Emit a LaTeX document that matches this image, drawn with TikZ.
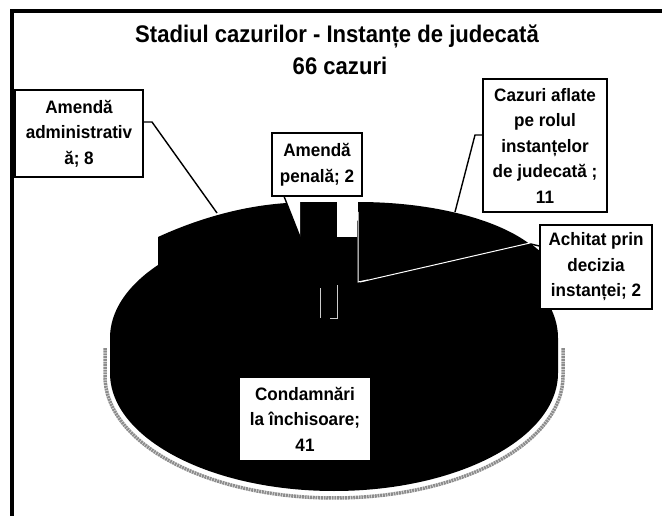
\documentclass[tikz,border=0pt]{standalone}
\usepackage{fontspec}
\setmainfont{Liberation Sans}
\newfontfamily\narrowfont{Liberation Sans}[FakeStretch=0.92]
\newfontfamily\labelfont{Liberation Sans}[FakeStretch=0.95]
\tikzset{
  lbl/.style={draw=black, line width=1.6pt, fill=white, align=center, inner sep=0pt,
    font=\labelfont\fontsize{18}{25.5}\selectfont\bfseries},
  ttl/.style={anchor=base, inner sep=0pt, font=\narrowfont\fontsize{24}{30}\selectfont\bfseries},
  slice/.style={fill=black},
  lead/.style={draw=black, line width=1.4pt},
  edgew/.style={draw=white, line width=1pt},
  faint/.style={draw=white!80!black, line width=0.6pt},
  halo/.style={draw=black!45, line width=3.5pt, dash pattern=on 2pt off 0.7pt},
  frameline/.style={draw=black, line width=4pt},
}
\begin{document}
\begin{tikzpicture}[x=1pt,y=-1pt]
\useasboundingbox (0,0) rectangle (662,516);
\fill[white] (0,0) rectangle (662,516);

% frame
\draw[frameline] (12,516) -- (12,11) -- (662,11);

% title
\node[ttl] (title) at (337,43) {Stadiul cazurilor - Instanțe de judecată};
\node[ttl] (count) at (340,75) {66 cazuri};

% halo of the bottom edge
\draw[halo] (105,348) -- (105,376) arc[start angle=180, end angle=0, x radius=229, y radius=122] -- (563,348);

% main body (Condamnari)
\fill[slice] (110,338) -- (110,373) arc[start angle=180, end angle=0, x radius=224, y radius=118]
  -- (558,338) arc[start angle=0, end angle=-180, x radius=224, y radius=118] -- cycle;

% Amenda administrativa
\fill[slice] (158,268) -- (158,237) .. controls (195,220) and (240,206) .. (287,203)
  -- (300,237) -- (310,300) -- (160,300) -- cycle;

% Amenda penala
\fill[slice] (300,202) rectangle (337,300);

% Cazuri aflate
\fill[slice] (358,282) -- (358,202) arc[start angle=-90, end angle=-28, x radius=195, y radius=80] -- cycle;

% Achitat
\fill[slice] (360,282) -- (530,243) -- (541,252) -- (548,305) -- (420,305) -- cycle;

% white gaps
\fill[white] (337,198) rectangle (357,237);
\fill[white] (287,203) -- (300,200) -- (300,237) -- cycle;

% white edges
\draw[edgew] (358,212) -- (358,282) -- (368,280);
\draw[edgew] (360,282) -- (530,243);
\draw[faint] (320,288) -- (320,318);
\draw[faint] (337,285) -- (337,318) -- (330,318);

% anchor points on the slices
\coordinate (pAdm) at (217,213);
\coordinate (pPen) at (300,237);
\coordinate (pCaz) at (455,212);
\coordinate (pAch) at (531,244);
\coordinate (kAdm) at (152,122);
\coordinate (kCaz) at (475,135);
\coordinate (kAch) at (540,246);

% labels
\node[lbl, minimum width=128pt, minimum height=87pt] (adm) at (79,133.5)
  {Amendă\\administrativ\\ă; 8};
\node[lbl, minimum width=90pt, minimum height=63pt] (pen) at (317,164.5)
  {Amendă\\penală; 2};
\node[lbl, minimum width=124pt, minimum height=133pt] (caz) at (545,145.5)
  {Cazuri aflate\\pe rolul\\instanțelor\\de judecată ;\\11};
\node[lbl, minimum width=112pt, minimum height=84pt] (ach) at (596,267)
  {Achitat prin\\decizia\\instanței; 2};
\node[lbl, draw=none, minimum width=130pt, minimum height=82pt] (con) at (305,419)
  {Condamnări\\la închisoare;\\41};

% leaders
\draw[lead] (adm.east |- kAdm) -- (kAdm) -- (pAdm);
\draw[lead] (pen.south west) ++(13,0) coordinate (kPen) -- (pPen);
\draw[lead] (caz.west |- kCaz) -- (kCaz) -- (pCaz);
\draw[lead] (ach.west |- kAch) -- (pAch);
\end{tikzpicture}
\end{document}
